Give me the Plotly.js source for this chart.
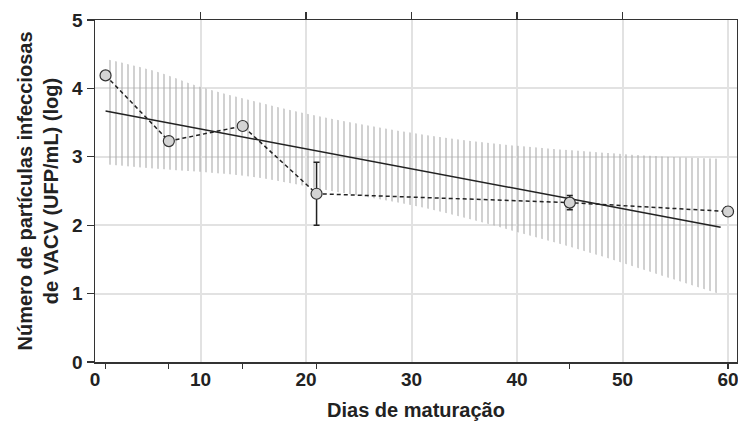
<!DOCTYPE html>
<html>
<head>
<meta charset="utf-8">
<script src="https://cdn.plot.ly/plotly-3.0.1.min.js"></script>
<style>html,body{margin:0;padding:0;background:#fff;}#chart{width:738px;height:421px;}</style>
</head>
<body>
<div id="chart"></div>
<script>
// Measured data
var days = [1, 7, 14, 21, 45, 60];
var logUFP = [4.19, 3.23, 3.45, 2.46, 2.33, 2.20];
var errUFP = [0, 0, 0, 0.46, 0.105, 0.07];

// Regression line
var regX = [1, 59.3];
var regY = [3.67, 1.97];

// Confidence band
var bandX = [1, 5.5, 10, 15.2, 21, 31.3, 40, 47.3, 54.2, 59.3];
var bandUpper = [4.43, 4.26, 4.02, 3.81, 3.60, 3.32, 3.16, 3.07, 3.00, 2.97];
var bandLower = [2.89, 2.83, 2.78, 2.70, 2.54, 2.25, 1.90, 1.58, 1.24, 0.99];

// Tick values
var xLabelTicks = [0, 10, 20, 30, 40, 50, 60];
var xTopTicks = [10, 20, 30, 40, 50];
var yTicks = [0, 1, 2, 3, 4, 5];

var axisColor = '#333333';
var gridColor = '#e2e2e2';
var fontFam = 'Liberation Sans, Arial, sans-serif';

var traces = [
  {x: bandX, y: bandLower, mode: 'lines', line: {width: 0, shape: 'spline'}, hoverinfo: 'skip', showlegend: false},
  {x: bandX, y: bandUpper, mode: 'lines', line: {width: 0, shape: 'spline'}, fill: 'tonexty',
   fillcolor: 'rgba(0,0,0,0)',
   fillpattern: {shape: '|', size: 6, solidity: 0.18, fgcolor: '#aaaaaa', bgcolor: 'rgba(0,0,0,0)'},
   hoverinfo: 'skip', showlegend: false},
  {x: regX, y: regY, mode: 'lines', line: {color: '#222', width: 1.5}, showlegend: false},
  {x: days, y: logUFP, mode: 'lines+markers',
   line: {color: '#222', width: 1.5, dash: '4px,3px'},
   marker: {size: 11, color: '#d4d4d4', line: {color: '#333', width: 1.2}},
   error_y: {type: 'data', array: errUFP, visible: true, color: '#222', thickness: 1.5, width: 3},
   showlegend: false},
  // helper traces for secondary axes
  {x: [0], y: [0], xaxis: 'x2', mode: 'markers', marker: {opacity: 0}, hoverinfo: 'skip', showlegend: false},
  {x: [0], y: [0], xaxis: 'x3', mode: 'markers', marker: {opacity: 0}, hoverinfo: 'skip', showlegend: false}
];

var layout = {
  width: 738, height: 421,
  margin: {l: 95, r: 1, t: 20, b: 59},
  paper_bgcolor: '#fff', plot_bgcolor: '#fff',
  font: {family: fontFam, color: '#222'},
  xaxis: {
    range: [0, 60.85], tickvals: xLabelTicks, ticks: '', showgrid: true,
    gridcolor: gridColor, gridwidth: 2, zeroline: false,
    showline: true, linecolor: axisColor, linewidth: 1.5,
    ticklabeloverflow: 'allow',
    tickfont: {family: fontFam, size: 19, weight: 'bold', color: '#222'},
    title: {text: 'Dias de maturação', font: {family: fontFam, size: 20, weight: 'bold', color: '#222'}, standoff: 13}
  },
  xaxis2: {
    overlaying: 'x', side: 'top', range: [0, 60.85], tickvals: xTopTicks,
    ticks: 'outside', ticklen: 7, tickwidth: 1.2, tickcolor: axisColor,
    showticklabels: false, showgrid: false, zeroline: false,
    showline: true, linecolor: axisColor, linewidth: 1.5
  },
  xaxis3: {
    overlaying: 'x', side: 'bottom', range: [0, 60.85], tickvals: days,
    ticks: 'outside', ticklen: 6, tickwidth: 1.2, tickcolor: axisColor,
    showticklabels: false, showgrid: false, zeroline: false, showline: false
  },
  yaxis: {
    range: [0, 5], tickvals: yTicks, ticks: 'outside', ticklen: 7, tickwidth: 1.2,
    tickcolor: axisColor, showgrid: true, gridcolor: gridColor, gridwidth: 2,
    zeroline: false, showline: true, linecolor: axisColor, linewidth: 1.5, mirror: true,
    tickfont: {family: fontFam, size: 19, weight: 'bold', color: '#222'},
    title: {text: 'Número de partículas infecciosas<br>de VACV (UFP/mL) (log)',
            font: {family: fontFam, size: 20, weight: 'bold', color: '#222'}, standoff: 8}
  }
};

Plotly.newPlot('chart', traces, layout, {displayModeBar: false, staticPlot: true});
</script>
</body>
</html>
